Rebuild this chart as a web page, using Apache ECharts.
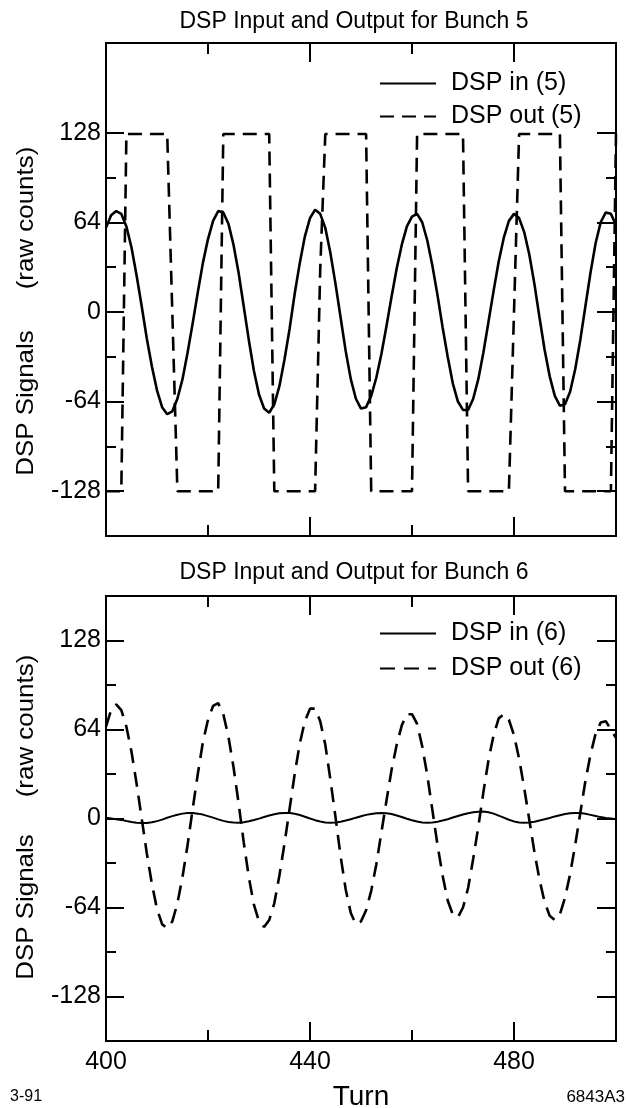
<!DOCTYPE html>
<html>
<head>
<meta charset="utf-8">
<script src="https://cdn.jsdelivr.net/npm/echarts@6/dist/echarts.min.js"></script>
<style>
  html, body { margin: 0; background: #fff; }
  #chart { width: 627px; height: 1108px; }
</style>
</head>
<body>
<div id="chart"></div>
<script>
// one sample per turn, starting at turn 400
const firstTurn = 400
const turnLabels = [400, 440, 480]
const turnMajorTicks = [440, 480]
const turnMinorTicks = [420, 460]
const countLabels = [-128, -64, 0, 64, 128]
const countMinorTicks = [-96, -32, 32, 96]

// Bunch 5
const dspIn5 = [
  60, 69, 72, 70, 61, 46, 26, 4, -19, -39,
  -56, -68, -73, -71, -62, -48, -29, -8, 14, 35,
  52, 65, 72, 71, 63, 48, 28, 4, -20, -42,
  -59, -69, -72, -66, -53, -34, -12, 13, 35, 54,
  67, 73, 70, 60, 42, 20, -4, -28, -48, -62,
  -69, -68, -60, -47, -30, -10, 11, 31, 48, 61,
  68, 70, 64, 51, 33, 12, -11, -32, -51, -64,
  -70, -70, -62, -48, -29, -7, 15, 36, 53, 65,
  70, 67, 57, 41, 20, -4, -27, -46, -60, -67,
  -66, -57, -41, -20, 4, 28, 49, 64, 71, 70,
  62
]
const dspOut5 = [
  -128, -128, -128, -128, 127, 127, 127, 127, 127, 127,
  127, 127, 127, 0, -128, -128, -128, -128, -128, -128,
  -128, -128, -128, 127, 127, 127, 127, 127, 127, 127,
  127, 127, 127, -128, -128, -128, -128, -128, -128, -128,
  -128, -128, 30, 127, 127, 127, 127, 127, 127, 127,
  127, 127, -128, -128, -128, -128, -128, -128, -128, -128,
  -128, 127, 127, 127, 127, 127, 127, 127, 127, 127,
  127, -128, -128, -128, -128, -128, -128, -128, -128, -128,
  0, 127, 127, 127, 127, 127, 127, 127, 127, 127,
  -128, -128, -128, -128, -128, -128, -128, -128, -128, -128,
  127
]

// Bunch 6
const dspIn6 = [
  0.5, 0, -0.5, -1, -1.8, -2.5, -3, -3.3, -3.2, -2.7,
  -1.9, -0.8, 0.5, 1.7, 2.7, 3.5, 4, 3.9, 3.5, 2.8,
  1.7, 0.6, -0.6, -1.7, -2.5, -2.9, -3, -2.7, -2, -1.1,
  -0.1, 1.1, 2.1, 3, 3.7, 4, 3.9, 3.4, 2.5, 1.3,
  0, -1.2, -2.2, -2.8, -3, -2.8, -2.3, -1.5, -0.5, 0.6,
  1.6, 2.6, 3.3, 3.8, 4, 3.8, 3.2, 2.2, 1.1, -0.2,
  -1.3, -2.2, -2.8, -3, -2.8, -2.3, -1.5, -0.5, 0.7, 1.8,
  2.9, 3.8, 4.5, 4.9, 5, 4.5, 3.5, 2.1, 0.6, -0.9,
  -2.1, -2.8, -3, -2.8, -2.3, -1.5, -0.6, 0.4, 1.5, 2.4,
  3.2, 3.7, 4, 3.9, 3.4, 2.6, 1.8, 1, 0.4, 0,
  -0.5
]
const dspOut6 = [
  66, 78, 82, 78, 66, 48, 25, 0, -25, -47,
  -65, -76, -79, -74, -61, -42, -19, 7, 32, 55,
  71, 81, 83, 75, 59, 37, 11, -17, -42, -62,
  -74, -78, -73, -61, -41, -18, 7, 32, 54, 70,
  79, 79, 70, 53, 28, 1, -27, -51, -68, -76,
  -74, -66, -52, -33, -10, 13, 35, 53, 67, 75,
  75, 68, 52, 31, 6, -19, -41, -59, -69, -71,
  -64, -50, -29, -6, 19, 42, 60, 72, 75, 71,
  60, 43, 22, -1, -24, -44, -60, -70, -73, -69,
  -57, -40, -19, 4, 27, 46, 61, 69, 70, 64,
  58
]

const FONT = '"Liberation Sans", Arial, Helvetica, sans-serif'
const BLACK = '#000'

// layout of the two panels
const panels = [
  { top: 43, height: 493, yMin: -160, yMax: 192, title: 'DSP Input and Output for Bunch 5', titleY: 22,
    inName: 'DSP in (5)', outName: 'DSP out (5)', inData: dspIn5, outData: dspOut5,
    inWidth: 2.6, outWidth: 2.6, dash: [14, 8], legendTop: 66, legendGap: 8,
    rawY: 218, signalsY: 403 },
  { top: 596, height: 445, yMin: -160, yMax: 160, title: 'DSP Input and Output for Bunch 6', titleY: 573,
    inName: 'DSP in (6)', outName: 'DSP out (6)', inData: dspIn6, outData: dspOut6,
    inWidth: 2, outWidth: 2.6, dash: [15, 9], legendTop: 616, legendGap: 10,
    rawY: 726, signalsY: 907 }
]

const toPoints = values => values.map((v, i) => [firstTurn + i, v])

const tick = (values, length) => ({
  inside: true, length, customValues: values,
  lineStyle: { color: BLACK, width: 2 }
})

const centered = { textAlign: 'center', textVerticalAlign: 'middle', align: 'center', verticalAlign: 'middle' }

const xAxis = []
const yAxis = []
const series = []
const legend = []
const graphic = []

panels.forEach((p, g) => {
  const showTurns = g === panels.length - 1
  const xBase = { gridIndex: g, type: 'value', min: 400, max: 500,
    axisLine: { show: false, onZero: false }, splitLine: { show: false } }
  const yBase = { gridIndex: g, type: 'value', min: p.yMin, max: p.yMax,
    axisLine: { show: false, onZero: false }, splitLine: { show: false } }
  const hidden = { show: false }

  const xMain = xAxis.length
  xAxis.push(
    { ...xBase, position: 'bottom', axisTick: tick(turnMajorTicks, 19),
      axisLabel: { show: showTurns, customValues: turnLabels, color: BLACK, fontSize: 25, fontFamily: FONT, margin: 9 } },
    { ...xBase, position: 'bottom', axisTick: tick(turnMinorTicks, 11), axisLabel: hidden },
    { ...xBase, position: 'top', axisTick: tick(turnMajorTicks, 19), axisLabel: hidden },
    { ...xBase, position: 'top', axisTick: tick(turnMinorTicks, 11), axisLabel: hidden }
  )
  const yMain = yAxis.length
  yAxis.push(
    { ...yBase, position: 'left', axisTick: tick(countLabels, 18),
      axisLabel: { customValues: countLabels, color: BLACK, fontSize: 25, fontFamily: FONT, margin: 5 } },
    { ...yBase, position: 'left', axisTick: tick(countMinorTicks, 10), axisLabel: hidden },
    { ...yBase, position: 'right', axisTick: tick(countLabels, 19), axisLabel: hidden },
    { ...yBase, position: 'right', axisTick: tick(countMinorTicks, 10), axisLabel: hidden }
  )

  series.push(
    { name: p.inName, type: 'line', xAxisIndex: xMain, yAxisIndex: yMain,
      data: toPoints(p.inData), showSymbol: false, symbol: 'none',
      lineStyle: { color: BLACK, width: p.inWidth } },
    { name: p.outName, type: 'line', xAxisIndex: xMain, yAxisIndex: yMain,
      data: toPoints(p.outData), showSymbol: false, symbol: 'none',
      lineStyle: { color: BLACK, width: p.outWidth, type: p.dash } }
  )

  legend.push({
    data: [p.inName, p.outName], orient: 'vertical', left: 374, top: p.legendTop,
    itemWidth: 56, itemHeight: 14, itemGap: p.legendGap, selectedMode: false,
    itemStyle: { opacity: 0 },
    textStyle: { color: BLACK, fontSize: 25, fontFamily: FONT, padding: [0, 0, 0, 10] }
  })

  graphic.push(
    { type: 'text', x: 354, y: p.titleY,
      style: { text: p.title, fill: BLACK, fontSize: 23, fontFamily: FONT, ...centered } },
    { type: 'text', x: 26, y: p.rawY, rotation: Math.PI / 2, scaleX: 1.08,
      style: { text: '(raw counts)', fill: BLACK, fontSize: 24, fontFamily: FONT, ...centered } },
    { type: 'text', x: 26, y: p.signalsY, rotation: Math.PI / 2, scaleX: 1.08,
      style: { text: 'DSP Signals', fill: BLACK, fontSize: 24, fontFamily: FONT, ...centered } }
  )
})

graphic.push(
  { type: 'text', x: 361, y: 1097,
    style: { text: 'Turn', fill: BLACK, fontSize: 28, fontFamily: FONT, ...centered } },
  { type: 'text', x: 10, y: 1097,
    style: { text: '3-91', fill: BLACK, fontSize: 16, fontFamily: FONT,
      textAlign: 'left', textVerticalAlign: 'middle', align: 'left', verticalAlign: 'middle' } },
  { type: 'text', x: 625, y: 1097,
    style: { text: '6843A3', fill: BLACK, fontSize: 17, fontFamily: FONT,
      textAlign: 'right', textVerticalAlign: 'middle', align: 'right', verticalAlign: 'middle' } }
)

const chart = echarts.init(document.getElementById('chart'))
chart.setOption({
  animation: false,
  backgroundColor: '#fff',
  grid: panels.map(p => ({
    left: 106, width: 510, top: p.top, height: p.height,
    show: true, borderColor: BLACK, borderWidth: 2, backgroundColor: 'transparent'
  })),
  xAxis,
  yAxis,
  legend,
  graphic,
  series
})
</script>
</body>
</html>
